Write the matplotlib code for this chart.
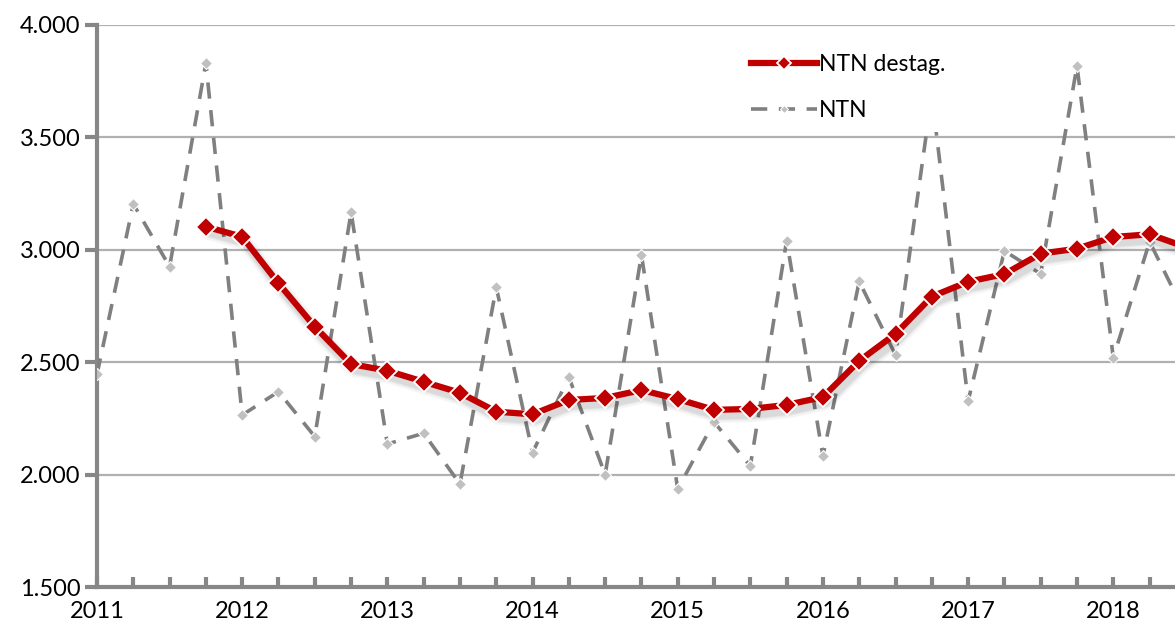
import numpy as np
import matplotlib
matplotlib.use("Agg")
import matplotlib.pyplot as plt
import matplotlib.patheffects as pe
from matplotlib.ticker import FuncFormatter, MultipleLocator

# Dati trimestrali 2011-2018
anni = [2011, 2012, 2013, 2014, 2015, 2016, 2017, 2018]
ntn = [2446, 3204, 2925, 3830, 2265, 2369, 2169, 3167, 2136, 2184,
       1958, 2833, 2098, 2434, 2000, 2977, 1936, 2234, 2038, 3041,
       2083, 2859, 2532, 3690, 2327, 2995, 2893, 3818, 2520, 3036, 2710]
ntn_destag = [np.nan, np.nan, np.nan, 3103, 3058, 2851, 2658, 2492, 2462, 2413,
              2364, 2280, 2268, 2332, 2341, 2376, 2336, 2288, 2292, 2310,
              2345, 2506, 2626, 2792, 2858, 2892, 2983, 3005, 3057, 3069, 3012]

plt.rcParams['font.family'] = ['Lato', 'DejaVu Sans']

fig = plt.figure(figsize=(11.75, 6.32), dpi=100)
ax = fig.add_axes([97 / 1175, 1 - 587 / 632, 1 - 97 / 1175, (587 - 25) / 632])

x = np.arange(len(ntn))

ax.plot(x, ntn, color='#808080', lw=2.6, dashes=(4.5, 3.2), marker='D', ms=6,
        mfc='#c0c0c0', mec='white', mew=0.8, label='NTN', zorder=3)
# ombra morbida sotto la linea rossa
for w, a in [(11, 0.04), (8, 0.05), (6, 0.06)]:
    ax.plot(x, ntn_destag, color='black', lw=w, alpha=a, zorder=3.5,
            solid_capstyle='round',
            path_effects=[pe.Stroke(offset=(2, -4))])
ax.plot(x, ntn_destag, color='#c00000', lw=4.5, marker='D', ms=10.5,
        mfc='#c00000', mec='white', mew=1.3, label='NTN destag.', zorder=4)

ax.set_xlim(0, 29.7)
ax.set_ylim(1500, 4000)
ax.yaxis.set_major_locator(MultipleLocator(500))
ax.yaxis.set_major_formatter(FuncFormatter(lambda v, p: f"{int(v):,}".replace(",", ".")))
ax.grid(axis='y', color='#b0b0b0', lw=1.6)
ax.set_axisbelow(True)

ax.set_xticks(np.arange(len(anni)) * 4)
ax.set_xticklabels([str(a) for a in anni])
ax.xaxis.set_minor_locator(MultipleLocator(1))

for s in ['top', 'right']:
    ax.spines[s].set_visible(False)
for s in ['left', 'bottom']:
    ax.spines[s].set_color('#878787')
    ax.spines[s].set_linewidth(3)

ax.tick_params(axis='x', which='both', direction='in', length=7, width=3,
               color='#878787', labelsize=17, pad=10)
ax.tick_params(axis='y', direction='out', length=9, width=3,
               color='#878787', labelsize=17, pad=3)

h, l = ax.get_legend_handles_labels()
leg = ax.legend([h[1], h[0]], [l[1], l[0]], loc='upper left', bbox_to_anchor=(0.585, 0.99),
                frameon=True, fontsize=16.5, handlelength=2.9, labelspacing=1.1,
                handletextpad=0.1, numpoints=1, borderpad=0.5, markerscale=0.65)
leg.get_frame().set_facecolor('white')
leg.get_frame().set_edgecolor('none')
leg.get_frame().set_alpha(1)
leg.set_zorder(10)

fig.savefig('out.png', dpi=100)
